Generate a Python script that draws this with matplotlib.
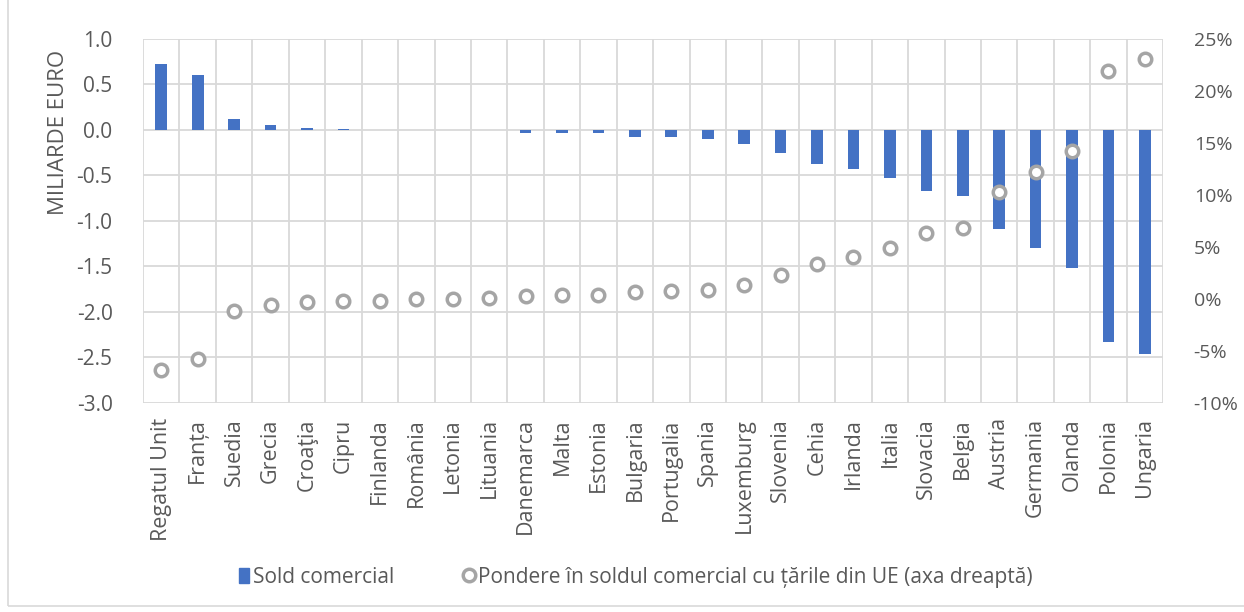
import matplotlib.pyplot as plt
import matplotlib.patches as mpatches
from matplotlib.lines import Line2D
from matplotlib.ticker import FuncFormatter
import numpy as np

# date
tari = ['Regatul Unit', 'Franța', 'Suedia', 'Grecia', 'Croaţia', 'Cipru', 'Finlanda',
        'România', 'Letonia', 'Lituania', 'Danemarca', 'Malta', 'Estonia', 'Bulgaria',
        'Portugalia', 'Spania', 'Luxemburg', 'Slovenia', 'Cehia', 'Irlanda', 'Italia',
        'Slovacia', 'Belgia', 'Austria', 'Germania', 'Olanda', 'Polonia', 'Ungaria']
sold_comercial = [0.72, 0.60, 0.12, 0.06, 0.02, 0.01, 0.005, 0.0, 0.0, 0.0,
                  -0.03, -0.03, -0.03, -0.08, -0.08, -0.10, -0.15, -0.25, -0.37, -0.43,
                  -0.53, -0.67, -0.73, -1.09, -1.30, -1.52, -2.33, -2.46]
pondere = [-6.8, -5.8, -1.15, -0.6, -0.3, -0.2, -0.2, 0.0, 0.0, 0.05,
           0.3, 0.35, 0.35, 0.67, 0.77, 0.87, 1.3, 2.3, 3.4, 4.0,
           4.9, 6.3, 6.8, 10.3, 12.2, 14.2, 21.9, 23.1]

plt.rcParams['font.family'] = ['Open Sans', 'DejaVu Sans']

BLUE = '#4472C4'
GREY = '#A5A5A5'
GRID = '#D9D9D9'
TEXT = '#595959'

fig = plt.figure(figsize=(12.44, 6.12), dpi=100)
ax = fig.add_axes([0.115, 0.3415, 0.82, 0.5948])
ax2 = ax.twinx()

x = np.arange(len(tari))
ax.bar(x, sold_comercial, width=0.32, color=BLUE, zorder=3)
ax.set_xlim(-0.5, len(tari) - 0.5)
ax.set_ylim(-3.0, 1.0)
ax.set_yticks(np.arange(-3.0, 1.01, 0.5))
ax.yaxis.set_major_formatter(FuncFormatter(lambda v, p: f'{v:.1f}'))
ax.set_xticks(x)
ax.set_xticklabels(tari, rotation=90, fontsize=15.5, color=TEXT)
ax.set_xticks(np.arange(-0.5, len(tari)), minor=True)
ax.grid(which='minor', axis='x', color=GRID, lw=1.3, zorder=0)
ax.grid(which='major', axis='y', color=GRID, lw=1.3, zorder=0)
ax.tick_params(axis='both', which='both', length=0)
ax.tick_params(axis='y', labelsize=15, colors=TEXT, pad=22)
ax.tick_params(axis='x', pad=11)
for s in ax.spines.values():
    s.set_visible(False)

# eticheta axei stangi este asezata sus, ca in original
fig.text(59 / 1244, 1 - 132 / 612, 'MILIARDE EURO', rotation=90, ha='center', va='center',
         fontsize=16, color=TEXT)

ax2.plot(x, pondere, linestyle='none', marker='o', ms=9, mfc='white',
         mec=GREY, mew=2.5, zorder=4)
ax2.set_ylim(-10, 25)
ax2.set_yticks(np.arange(-10, 26, 5))
ax2.yaxis.set_major_formatter(FuncFormatter(lambda v, p: f'{v:.0f}%'))
ax2.tick_params(axis='y', length=0, labelsize=14, colors=TEXT, pad=22)
for s in ax2.spines.values():
    s.set_visible(False)

handles = [mpatches.Patch(color=BLUE, label='Sold comercial'),
           Line2D([], [], linestyle='none', marker='o', ms=9, mfc='white', mec=GREY,
                  mew=2.5, label='Pondere în soldul comercial cu țările din UE (axa dreaptă)')]
fig.legend(handles=handles, loc='center', bbox_to_anchor=(0.511, 0.057), ncol=2,
           frameon=False, fontsize=15, labelcolor=TEXT, handlelength=0.5,
           handletextpad=0.2, columnspacing=3.3)

# chenarul exterior al graficului
fig.patches.append(mpatches.Rectangle((8 / 1244, 6 / 612), 1.1, 1.1, transform=fig.transFigure,
                                      fill=False, edgecolor=GRID, lw=1.2))

fig.savefig('out.png', dpi=100)
